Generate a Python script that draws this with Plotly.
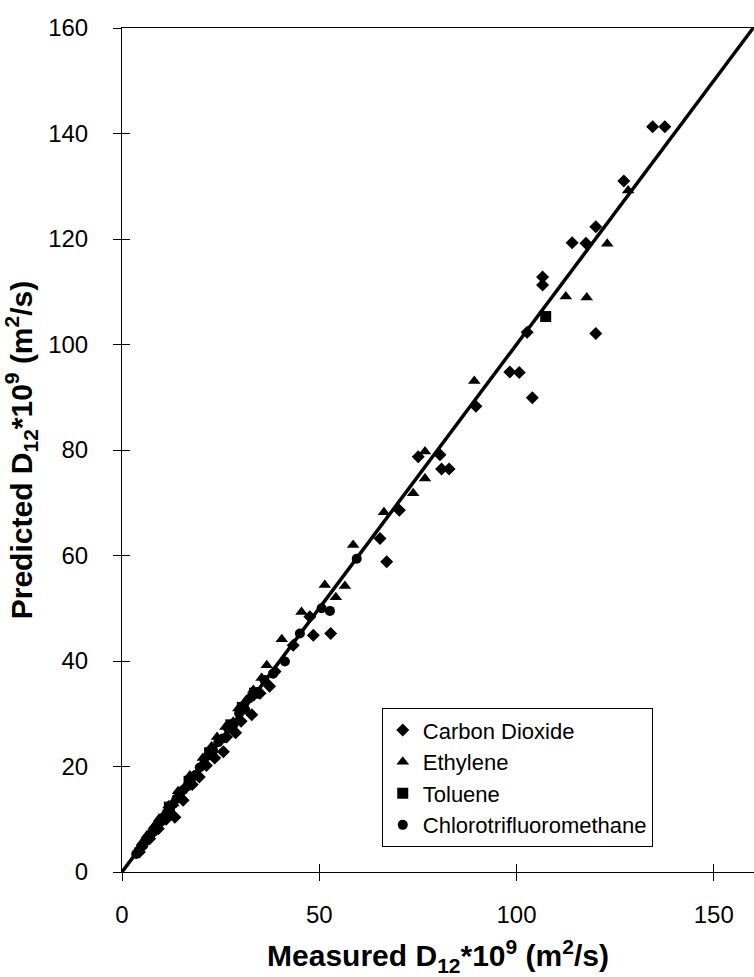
import plotly.graph_objects as go

# ---------------- data ----------------
co2_x = [4.4, 7.0, 9.2, 11.2, 13.4, 15.5, 17.8, 19.6, 21.4, 23.5, 25.7, 26.5, 28.8, 30.2,
         32.9, 35.0, 37.4, 38.8, 43.4, 47.6, 48.5, 52.9, 65.4, 67.1, 70.3, 75.1, 80.6,
         81.0, 82.9, 89.7, 98.3, 100.7, 102.7, 104.0, 106.6, 106.6, 114.1, 117.6, 120.1,
         120.1, 127.2, 134.5, 137.6]
co2_y = [3.8, 6.3, 8.2, 10.0, 10.4, 13.6, 16.6, 18.0, 20.2, 21.6, 22.8, 25.6, 26.4, 28.6,
         29.8, 33.9, 35.2, 38.0, 43.0, 48.4, 44.9, 45.2, 63.2, 58.8, 68.6, 78.7, 79.1,
         76.4, 76.4, 88.3, 94.8, 94.7, 102.3, 89.9, 112.8, 111.3, 119.3, 119.2, 122.3,
         102.1, 131.0, 141.3, 141.3]

eth_x = [5.1, 6.3, 8.0, 9.4, 10.5, 11.8, 13.0, 14.2, 16.0, 17.2, 18.9, 20.5, 22.7, 24.1,
         26.2, 28.2, 29.5, 31.5, 33.3, 35.4, 36.7, 40.5, 45.5, 51.4, 54.2, 56.5, 58.6,
         66.4, 73.8, 76.8, 76.8, 89.3, 112.5, 117.8, 123.0, 128.3]
eth_y = [5.6, 6.9, 8.6, 10.1, 10.5, 12.6, 13.0, 15.3, 16.2, 18.3, 18.7, 21.6, 23.8, 25.6,
         27.5, 28.5, 31.0, 32.6, 34.5, 36.8, 39.2, 44.1, 49.3, 54.4, 52.1, 54.2, 62.0,
         68.2, 71.8, 79.7, 74.6, 93.1, 109.1, 108.9, 119.1, 129.2]

tol_x = [12.0, 17.0, 22.2, 27.6, 30.5, 33.6, 107.4]
tol_y = [12.3, 17.2, 22.6, 27.9, 31.2, 33.9, 105.3]

ctfm_x = [3.6, 4.2, 4.8, 5.4, 6.0, 6.6, 7.2, 7.8, 8.5, 9.1, 9.8, 10.6, 11.3, 12.1, 13.0,
          13.8, 14.7, 15.6, 16.5, 17.5, 18.6, 19.7, 20.8, 21.9, 23.1, 24.4, 25.6, 26.9,
          28.3, 29.7, 31.2, 32.8, 34.4, 36.1, 38.3, 41.3, 45.1, 50.6, 52.7, 59.5]
ctfm_y = [3.4, 4.0, 4.7, 5.1, 5.9, 6.4, 7.1, 7.5, 8.3, 9.0, 9.5, 10.4, 11.2, 11.8, 12.9,
          13.9, 14.5, 15.6, 16.2, 17.6, 18.4, 19.8, 20.5, 22.1, 23.0, 24.6, 25.3, 27.2,
          28.0, 30.1, 30.8, 33.2, 34.1, 36.4, 37.6, 39.9, 45.2, 50.0, 49.5, 59.4]

parity_x = [0, 160]
parity_y = [0, 160]

x_ticks = [0, 50, 100, 150]
x_cross = [50, 100, 150]
y_ticks = [0, 20, 40, 60, 80, 100, 120, 140, 160]
y_cross = [20, 40, 60, 80, 100, 120, 140]

FONT = "Liberation Sans, Arial, Helvetica, sans-serif"

fig = go.Figure()
fig.add_trace(go.Scatter(x=parity_x, y=parity_y, mode="lines",
                         line=dict(color="black", width=3.5), showlegend=False,
                         hoverinfo="skip"))
fig.add_trace(go.Scatter(x=co2_x, y=co2_y, mode="markers", name="Carbon Dioxide",
                         marker=dict(symbol="diamond", size=10, color="black")))
fig.add_trace(go.Scatter(x=eth_x, y=eth_y, mode="markers", name="Ethylene",
                         marker=dict(symbol="triangle-up", size=11, color="black")))
fig.add_trace(go.Scatter(x=tol_x, y=tol_y, mode="markers", name="Toluene",
                         marker=dict(symbol="square", size=11, color="black")))
fig.add_trace(go.Scatter(x=ctfm_x, y=ctfm_y, mode="markers", name="Chlorotrifluoromethane",
                         marker=dict(symbol="circle", size=10, color="black")))
# helper (empty) trace so the inside-tick overlay axes get drawn
fig.add_trace(go.Scatter(x=[], y=[], xaxis="x2", yaxis="y2", showlegend=False,
                         hoverinfo="skip"))

fig.update_layout(
    width=754, height=977,
    margin=dict(l=122, r=0, t=28, b=105),
    paper_bgcolor="white", plot_bgcolor="white",
    font=dict(family=FONT, color="black"),
    showlegend=True,
    legend=dict(x=0.411, y=0.194, xanchor="left", yanchor="top",
                bordercolor="black", borderwidth=1, bgcolor="white",
                font=dict(family=FONT, size=22, color="black"),
                tracegroupgap=0),
    xaxis=dict(range=[0, 160.2], tickvals=x_ticks, ticks="outside", ticklen=8,
               tickwidth=1, tickcolor="black", showline=True, linecolor="black",
               linewidth=1, mirror=True, showgrid=False, zeroline=False,
               tickfont=dict(family=FONT, size=24, color="black"),
               ticklabelstandoff=13, automargin=False,
               title=dict(text="<b>Measured D<sub>12</sub>*10<sup>9</sup> (m<sup>2</sup>/s)</b>",
                          font=dict(family=FONT, size=30, color="black"), standoff=18)),
    yaxis=dict(range=[0, 160], tickvals=y_ticks, ticks="outside", ticklen=8,
               tickwidth=1, tickcolor="black", showline=True, linecolor="black",
               linewidth=1, mirror=False, showgrid=False, zeroline=False,
               tickfont=dict(family=FONT, size=24, color="black"),
               ticklabelstandoff=20, automargin=False,
               title=dict(text="<b>Predicted D<sub>12</sub>*10<sup>9</sup> (m<sup>2</sup>/s)</b>",
                          font=dict(family=FONT, size=30, color="black"), standoff=7)),
    xaxis2=dict(overlaying="x", anchor="y", range=[0, 160.2], tickvals=x_cross,
                ticks="inside", ticklen=8, tickwidth=1, tickcolor="black",
                showticklabels=False, showline=False, showgrid=False, zeroline=False),
    yaxis2=dict(overlaying="y", anchor="x", side="left", range=[0, 160], tickvals=y_cross,
                ticks="inside", ticklen=8, tickwidth=1, tickcolor="black",
                showticklabels=False, showline=False, showgrid=False, zeroline=False),
)

fig.write_html("out.html", config={"displayModeBar": False},
               post_script="document.body.style.margin='0px';")
